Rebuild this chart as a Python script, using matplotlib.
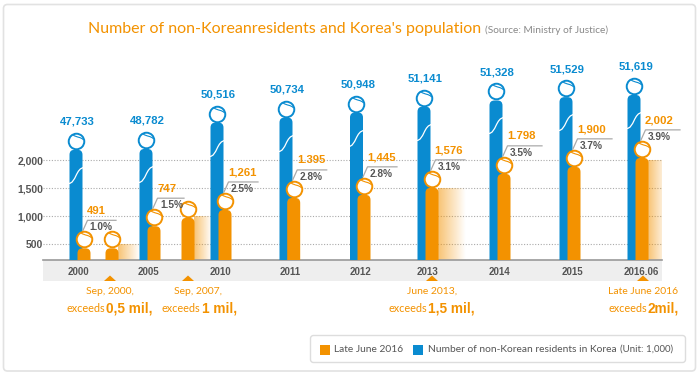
import numpy as np
import matplotlib
matplotlib.use('Agg')
import matplotlib.pyplot as plt
from matplotlib.patches import FancyBboxPatch, Rectangle, Polygon
from matplotlib.path import Path

# chart values
years = ['2000', '2005', '2010', '2011', '2012', '2013', '2014', '2015', '2016.06']
residents = ['47,733', '48,782', '50,516', '50,734', '50,948', '51,141', '51,328', '51,529', '51,619']
foreigners = ['491', '747', '1,261', '1.395', '1,445', '1,576', '1.798', '1,900', '2,002']
shares = ['1.0%', '1.5%', '2.5%', '2.8%', '2.8%', '3.1%', '3.5%', '3.7%', '3.9%']

blue_heights = [2190, 2205, 2675, 2765, 2855, 2960, 3070, 3130, 3170]
orange_heights = [430, 825, 1115, 1330, 1385, 1510, 1760, 1885, 2045]

# extra bars for the milestones between the years
milestone_x = [112, 188]
milestone_heights = [430, 975]

tick_values = [500, 1000, 1500, 2000]
tick_labels = ['500', '1,000', '1,500', '2,000']

# x positions on the picture (1 unit = 1 pixel)
blue_x = [76, 146, 217, 286, 356.5, 424, 496, 566, 634]
orange_x = [84, 154, 225, 293.7, 364, 432, 504, 574, 642]
year_x = [78, 148, 220, 290, 361, 428, 500, 572, 641]

BLUE = '#0a8bd0'
ORANGE = '#f39200'
GREY = '#555555'
BAR_W = 13
PX = 500 / 28.0  # value units per pixel
BOLD = 'Liberation Sans'
THIN = 'Lato'

fig = plt.figure(figsize=(7, 3.78), dpi=100)

# background layer in pixel coordinates: card, title, band, callouts, legend
bg = fig.add_axes([0, 0, 1, 1], zorder=0)
bg.set_xlim(0, 700)
bg.set_ylim(378, 0)
bg.axis('off')

bg.add_patch(FancyBboxPatch((3.5, 4.5), 692, 366.5, boxstyle='round,pad=0,rounding_size=4',
                            fc='white', ec='#e2e2e2', lw=1.2))
bg.text(88, 28.5, "Number of non-Koreanresidents and Korea's population", color=ORANGE,
        fontsize=11.5, family=THIN, va='center', ha='left')
bg.text(485, 30.5, '(Source: Ministry of Justice)', color='#888888', fontsize=7.3, family=THIN,
        va='center', ha='left')

bg.add_patch(Rectangle((43, 260), 619, 21, fc='#eeeeee', ec='none'))

# callouts under the band: x of triangle, first line, x of split, bold part
callout_x = [110, 188, 432, 643]
callout_top = ['Sep, 2000,', 'Sep, 2007,', 'June 2013,', 'Late June 2016']
callout_top_x = [110, 198, 432.5, 643]
callout_split = [105, 200.5, 427.5, 647]
callout_big = ['0,5 mil,', '1 mil,', '1,5 mil,', '2mil,']
for i in range(4):
    x = callout_x[i]
    bg.add_patch(Polygon([(x - 6, 281), (x + 6, 281), (x, 275.5)], fc=ORANGE, ec='none'))
    bg.text(callout_top_x[i], 291.5, callout_top[i], color=ORANGE, fontsize=7.5, family=THIN,
            ha='center', va='center')
    bg.text(callout_split[i], 309, 'exceeds', color=ORANGE, fontsize=7.8, family=THIN,
            ha='right', va='center')
    bg.text(callout_split[i] + 1, 308.5, callout_big[i], color=ORANGE, fontsize=9.8, family=BOLD,
            weight='bold', ha='left', va='center')

# legend
bg.add_patch(FancyBboxPatch((310.5, 335.5), 375, 27, boxstyle='round,pad=0,rounding_size=3',
                            fc='white', ec='#dddddd', lw=1))
bg.add_patch(Rectangle((320, 345), 10, 10, fc=ORANGE, ec='none'))
bg.text(333.5, 349.5, 'Late June 2016', color=GREY, fontsize=7.4, family=THIN, va='center')
bg.add_patch(Rectangle((413, 345), 10, 10, fc=BLUE, ec='none'))
bg.text(427.5, 349.5, 'Number of non-Korean residents in Korea', color=GREY, fontsize=7.4,
        family=THIN, va='center')
bg.text(620, 349.5, '(Unit: 1,000)', color=GREY, fontsize=7, family=THIN, va='center')

# chart layer: x in pixels, y on the real tick scale
ax = fig.add_axes([43 / 700.0, (378 - 260) / 378.0, 619 / 700.0, 200 / 378.0], zorder=1)
ax.patch.set_alpha(0)
ax.set_xlim(43, 662)
ax.set_ylim(500 - 15.6 * PX, 500 - 15.6 * PX + 200 * PX)
for s in ['top', 'left', 'right']:
    ax.spines[s].set_visible(False)
ax.spines['bottom'].set_color('#999999')
ax.spines['bottom'].set_linewidth(1.2)

ax.set_yticks(tick_values)
ax.set_yticklabels(tick_labels, color=GREY, fontsize=7.5, family=BOLD, weight='bold')
ax.set_xticks(year_x)
ax.set_xticklabels(years, color=GREY, fontsize=7, family=BOLD, weight='bold')
ax.tick_params(axis='both', length=0)
ax.tick_params(axis='x', pad=5)
ax.tick_params(axis='y', pad=0)
ax.yaxis.grid(True, color='#aaaaaa', linestyle=(0, (1, 1.5)), linewidth=0.8)
ax.set_axisbelow(True)
ax.xaxis.grid(False)

# head marker: circle plus a thin hair line, wave marker for the broken scale
head = Path.unit_circle()
hair = Path([(1, 1), (-0.45, 0.85), (0.0, 0.5), (0.6, 0.6), (0.9, 0.2)],
            [Path.MOVETO, Path.MOVETO, Path.CURVE4, Path.CURVE4, Path.CURVE4])
wave = Path([(-1, -1), (-0.05, -1), (-0.1, 1), (1, 1)],
            [Path.MOVETO, Path.CURVE4, Path.CURVE4, Path.CURVE4])


def draw_bar(x, h, color):
    bottom = ax.get_ylim()[0] - 20 * PX
    box = FancyBboxPatch((x - BAR_W / 2.0, bottom), BAR_W, h - bottom,
                         boxstyle='round,pad=0,rounding_size=5', mutation_aspect=PX,
                         fc=color, ec='none', zorder=3)
    ax.add_patch(box)
    ax.plot([x], [h + 9 * PX], marker=head, ms=11.2, mfc='white', mec=color, mew=1.4,
            zorder=4, clip_on=False, ls='none')
    ax.plot([x], [h + 9 * PX], marker=hair, ms=11.2, mfc='none', mec=color, mew=0.8,
            zorder=4, clip_on=False, ls='none')


def draw_fade(x0, x1, top):
    # orange fade to the right of a milestone bar
    grad = np.zeros((1, 64, 4))
    grad[0, :, :3] = matplotlib.colors.to_rgb(ORANGE)
    grad[0, :, 3] = np.linspace(0.55, 0, 64)
    ax.imshow(grad, extent=[x0, x1, ax.get_ylim()[0], top], aspect='auto', zorder=2)


ylim = ax.get_ylim()
xlim = ax.get_xlim()
draw_fade(118, 140, 500)
draw_fade(194, 212, 1000)
draw_fade(438, 466, 1500)
draw_fade(648, 668, 2000)
ax.set_xlim(xlim)
ax.set_ylim(ylim)

for i in range(len(years)):
    draw_bar(blue_x[i], blue_heights[i], BLUE)
    ax.plot([blue_x[i]], [blue_heights[i] - 25 * PX], marker=wave, ms=11.5, mfc='none', mec='white',
            mew=0.9, zorder=4, ls='none')
    ax.text(blue_x[i] + 1.5, blue_heights[i] + 28 * PX, residents[i], color=BLUE, fontsize=8.2,
            family=BOLD, weight='bold', ha='center', va='center')

    draw_bar(orange_x[i], orange_heights[i], ORANGE)

label_dx = [12, 13, 18, 18, 18, 17, 18, 18, 17]
share_dx = [17, 18, 17, 17, 17, 17, 17, 17, 17]
line_dx = [32, 30, 33, 33, 33, 33, 38, 38, 38]
for i in range(len(years)):
    x = orange_x[i]
    h = orange_heights[i]
    ax.plot([x - 1, x + 3.5, x + line_dx[i]], [h + 18 * PX, h + 28 * PX, h + 28 * PX],
            color='#aaaaaa', lw=0.9, zorder=3, clip_on=False)
    ax.text(x + label_dx[i], h + 37.5 * PX, foreigners[i], color=ORANGE, fontsize=8.2, family=BOLD,
            weight='bold', ha='center', va='center', zorder=5)
    ax.text(x + share_dx[i], h + 21 * PX, shares[i], color=GREY, fontsize=7.3, family=BOLD,
            weight='bold', ha='center', va='center', zorder=5)

for x, h in zip(milestone_x, milestone_heights):
    draw_bar(x, h, ORANGE)

fig.savefig('out.png', dpi=100)
